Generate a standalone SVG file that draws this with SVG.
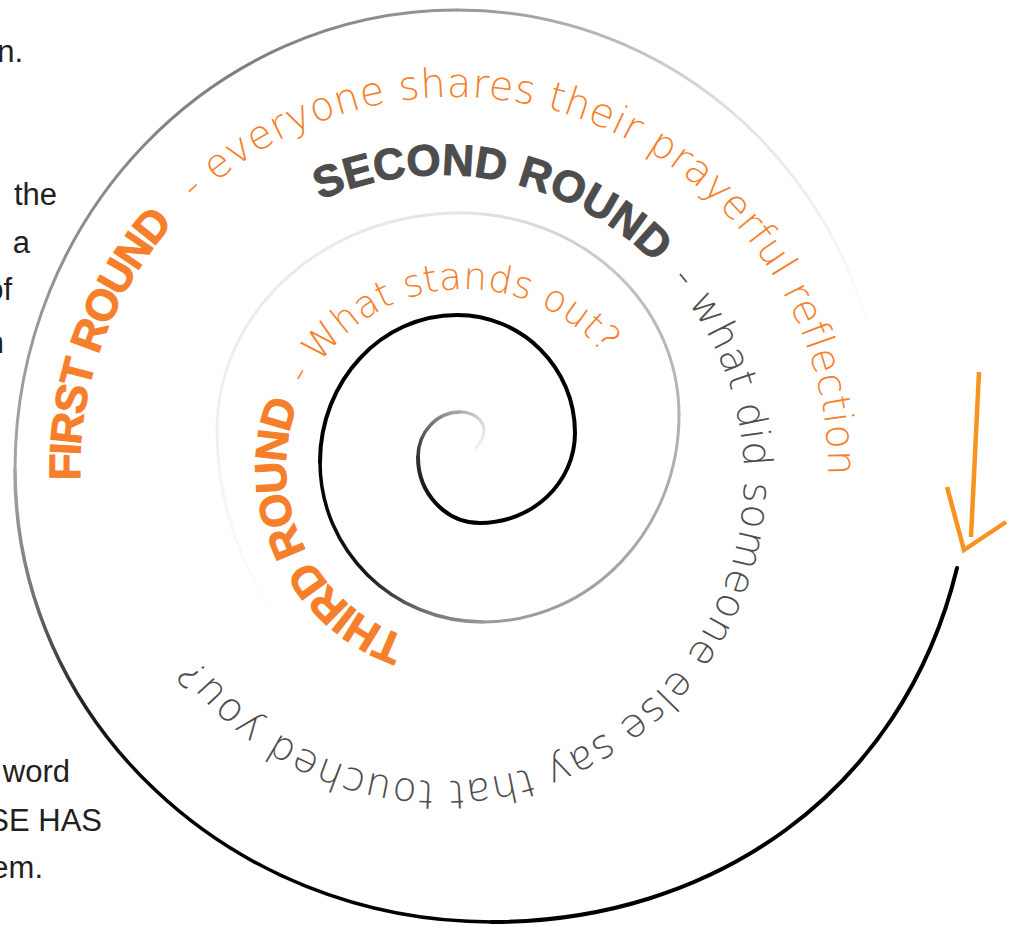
<svg xmlns="http://www.w3.org/2000/svg" xmlns:xlink="http://www.w3.org/1999/xlink" width="1010" height="926" viewBox="0 0 1010 926">
<style>
  .sp { fill: none; stroke-linecap: round; }
  .side { font-family: "Liberation Sans", Arial, sans-serif; font-size: 31px; fill: #231f20; text-anchor: end; }
  .bold { font-family: "Liberation Sans", Arial, sans-serif; font-weight: bold; font-size: 44px; stroke-width: 1; stroke-linejoin: round; }
  .light { font-family: "DejaVu Sans", "Liberation Sans", sans-serif; font-weight: 200; }
  .orange { fill: #f57f2a; }
  .bold.orange { stroke: #f57f2a; }
  .grey { fill: #4d4d4d; }
  .bold.grey { stroke: #4d4d4d; }
  .arrow { fill: none; stroke: #f7931e; stroke-width: 4.5; stroke-linecap: butt; stroke-linejoin: miter; }
</style>
<defs>
  <linearGradient id="g0" gradientUnits="userSpaceOnUse" x1="476" y1="448" x2="484" y2="430"><stop offset="0" stop-color="#f0f0f0"/><stop offset="1" stop-color="#e4e4e4"/></linearGradient>
  <linearGradient id="g1" gradientUnits="userSpaceOnUse" x1="484" y1="430" x2="460" y2="412"><stop offset="0" stop-color="#e4e4e4"/><stop offset="1" stop-color="#aaaaaa"/></linearGradient>
  <linearGradient id="g2" gradientUnits="userSpaceOnUse" x1="460" y1="412" x2="418" y2="457"><stop offset="0" stop-color="#aaaaaa"/><stop offset="1" stop-color="#333333"/></linearGradient>
  <linearGradient id="g3" gradientUnits="userSpaceOnUse" x1="418" y1="457" x2="480" y2="523"><stop offset="0" stop-color="#333333"/><stop offset="0.6" stop-color="#000000"/></linearGradient>
  <linearGradient id="g7" gradientUnits="userSpaceOnUse" x1="320" y1="462" x2="483" y2="622"><stop offset="0" stop-color="#000000"/><stop offset="0.5" stop-color="#1a1a1a"/><stop offset="0.74" stop-color="#666666"/><stop offset="1" stop-color="#999999"/></linearGradient>
  <linearGradient id="g8" gradientUnits="userSpaceOnUse" x1="483" y1="622" x2="679" y2="415"><stop offset="0" stop-color="#999999"/><stop offset="1" stop-color="#b3b3b3"/></linearGradient>
  <linearGradient id="g9" gradientUnits="userSpaceOnUse" x1="679" y1="415" x2="460" y2="213"><stop offset="0" stop-color="#b3b3b3"/><stop offset="0.3" stop-color="#bbbbbb"/><stop offset="1" stop-color="#e5e5e5"/></linearGradient>
  <linearGradient id="g10" gradientUnits="userSpaceOnUse" x1="460" y1="213" x2="217" y2="430"><stop offset="0" stop-color="#e5e5e5"/><stop offset="1" stop-color="#f0f0f0"/></linearGradient>
  <linearGradient id="g11" gradientUnits="userSpaceOnUse" x1="217" y1="430" x2="281" y2="622"><stop offset="0" stop-color="#f0f0f0"/><stop offset="1" stop-color="#ffffff"/></linearGradient>
  <linearGradient id="o1" gradientUnits="userSpaceOnUse" x1="884" y1="445" x2="457" y2="10"><stop offset="0" stop-color="#ffffff"/><stop offset="0.14" stop-color="#ffffff"/><stop offset="0.3" stop-color="#f4f4f4"/><stop offset="0.55" stop-color="#e4e4e4"/><stop offset="0.78" stop-color="#bbbbbb"/><stop offset="1" stop-color="#969696"/></linearGradient>
  <linearGradient id="o2" gradientUnits="userSpaceOnUse" x1="457" y1="10" x2="15" y2="470"><stop offset="0" stop-color="#969696"/><stop offset="0.3" stop-color="#7e7e7e"/><stop offset="0.7" stop-color="#8e8e8e"/><stop offset="1" stop-color="#a5a5a5"/></linearGradient>
  <linearGradient id="o3" gradientUnits="userSpaceOnUse" x1="15" y1="470" x2="492" y2="922"><stop offset="0" stop-color="#a5a5a5"/><stop offset="0.135" stop-color="#7a7a7a"/><stop offset="0.21" stop-color="#555555"/><stop offset="0.33" stop-color="#1e1e1e"/><stop offset="0.5" stop-color="#000000"/></linearGradient>
  <path id="pFirst" d="M102.6,598.9 A374,374 0 1 1 805.4,598.9"/>
  <path id="pSecond" d="M208.9,283.2 A303,303 0 1 1 178.6,629.5"/>
  <path id="pThird" d="M496.1,644.3 A179,179 0 1 1 637.9,421.7"/>
</defs>
<rect width="1010" height="926" fill="#ffffff"/>

<g id="side-text">
  <text class="side" x="23" y="62">n.</text>
  <text class="side" x="57" y="205">the</text>
  <text class="side" x="30" y="253">a</text>
  <text class="side" x="12" y="300">of</text>
  <text class="side" x="4" y="353">n</text>
  <text class="side" x="70" y="782">word</text>
  <text class="side" x="102" y="831">SE HAS</text>
  <text class="side" x="43" y="878">em.</text>
</g>

<g id="connectors">
  <g id="spiral" class="sp">
    <path stroke="url(#g0)" stroke-width="3" d="M476,448 C480,443 484,436 484,430"/>
    <path stroke="url(#g1)" stroke-width="3" d="M484,430 C484,420 473,412 460,412"/>
    <path stroke="url(#g2)" stroke-width="3.5" d="M460,412 C437,412 418,432 418,457"/>
    <path stroke="url(#g3)" stroke-width="4" d="M418,457 C418,493.5 445.8,523 480,523"/>
    <path stroke="#000" stroke-width="4" d="M480,523 C532.5,523 575,482.7 575,433 C575,367.8 522.2,315 457,315 C381.3,315 320,380.8 320,462"/>
    <path stroke="url(#g7)" stroke-width="3.5" d="M320,462 C320,550.4 393,622 483,622"/>
    <path stroke="url(#g8)" stroke-width="3" d="M483,622 C591.2,622 679,529.3 679,415"/>
    <path stroke="url(#g9)" stroke-width="3" d="M679,415 C679,303.4 581,213 460,213"/>
    <path stroke="url(#g10)" stroke-width="3" d="M460,213 C325.8,213 217,310.2 217,430"/>
    <path stroke="url(#g11)" stroke-width="3" d="M217,430 C217,503.35 241.3,570.15 281.3,621.9"/>
    <path stroke="url(#o1)" stroke-width="3" d="M884,445 C884,205 693,10 457,10"/>
    <path stroke="url(#o2)" stroke-width="3" d="M457,10 C212.9,10 15,216 15,470"/>
    <path stroke="url(#o3)" stroke-width="3.5" d="M15,470 C15,719.6 228.6,922 492,922"/>
    <path stroke="#000" stroke-width="4" d="M492,922 C710.7,922 902.4,794 957,568"/>
  </g>
  <g id="arrow" class="arrow">
    <line x1="979" y1="372" x2="971" y2="537"/>
    <polyline points="947,487 964,550 1006,522"/>
  </g>
</g>

<g id="first-round">
  <text class="bold orange" letter-spacing="-2"><textPath href="#pFirst" xlink:href="#pFirst" startOffset="121">FIRST ROUND</textPath></text>
  <text class="light orange" font-size="40" letter-spacing="0.4"><textPath href="#pFirst" xlink:href="#pFirst" startOffset="432">- everyone shares their prayerful reflection</textPath></text>
</g>

<g id="second-round">
  <text class="bold grey" letter-spacing="0"><textPath href="#pSecond" xlink:href="#pSecond" startOffset="140">SECOND ROUND</textPath></text>
  <text class="light grey" font-size="40" letter-spacing="0.6"><textPath href="#pSecond" xlink:href="#pSecond" startOffset="524">- what did someone else say that touched you?</textPath></text>
</g>

<g id="third-round">
  <text class="bold orange" letter-spacing="-2"><textPath href="#pThird" xlink:href="#pThird" startOffset="91">THIRD ROUND</textPath></text>
  <text class="light orange" font-size="37.5"><textPath href="#pThird" xlink:href="#pThird" startOffset="398">- What stands out?</textPath></text>
</g>
</svg>
